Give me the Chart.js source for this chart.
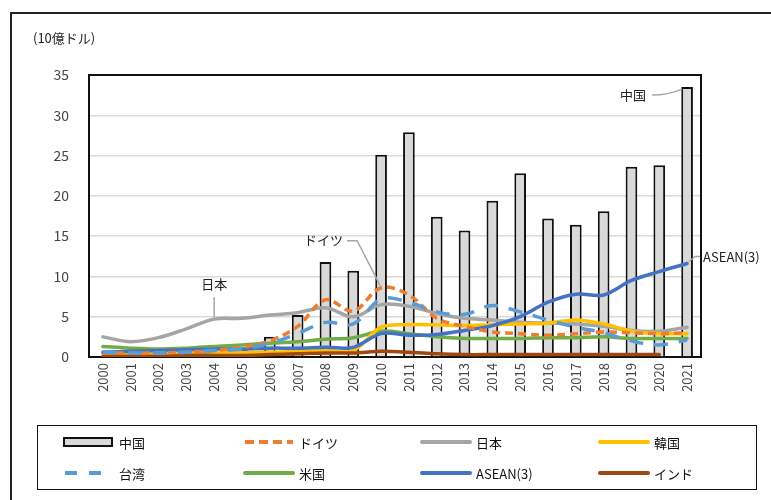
<!DOCTYPE html>
<html>
<head>
<meta charset="utf-8">
<script src="https://cdn.jsdelivr.net/npm/chart.js@4/dist/chart.umd.min.js"></script>
<style>
  html, body { margin: 0; padding: 0; background: #fff; }
  #wrap { position: relative; width: 771px; height: 500px; overflow: hidden; font-family: "Noto Sans CJK JP", sans-serif; }
  #frame { position: absolute; left: 10px; top: 12px; width: 800px; height: 520px; border-left: 2px solid #222; border-top: 2px solid #222; box-sizing: border-box; pointer-events: none; }
  #legend { position: absolute; left: 37px; top: 425px; width: 720px; height: 65px; border: 1.5px solid #111; box-sizing: border-box; }
  .item { position: absolute; display: flex; align-items: center; font-size: 13px; color: #111; height: 20px; }
  .item svg { margin-right: 4px; }
</style>
</head>
<body>
<div id="wrap">
  <canvas id="c" width="771" height="500"></canvas>
  <div id="frame"></div>
  <div id="legend"></div>
</div>
<script>
// Annual values, 10億ドル
const years = ['2000','2001','2002','2003','2004','2005','2006','2007','2008','2009','2010',
               '2011','2012','2013','2014','2015','2016','2017','2018','2019','2020','2021'];
const china   = [0.1,0.1,0.2,0.3,0.5,1.0,2.5,5.2,11.8,10.7,25.1,27.9,17.4,15.7,19.4,22.8,17.2,16.4,18.1,23.6,23.8,33.5];
const germany = [0.5,0.5,0.5,0.6,0.8,1.2,2.0,3.8,7.1,5.7,8.6,7.7,4.8,3.8,3.1,2.9,2.7,2.9,3.1,3.0,2.9,3.0];
const japan   = [2.5,1.9,2.4,3.5,4.7,4.8,5.2,5.5,6.1,5.0,6.5,6.3,5.4,4.8,4.6,4.3,4.2,4.1,3.8,3.3,3.2,3.7];
const korea   = [0.4,0.4,0.4,0.5,0.5,0.6,0.6,0.7,0.8,0.8,3.7,4.0,4.0,3.9,4.0,4.1,4.2,4.6,4.1,3.2,2.9,2.9];
const taiwan  = [0.6,0.5,0.5,0.6,0.8,1.0,1.7,2.9,4.3,4.1,7.2,6.8,5.6,5.3,6.4,5.6,4.6,3.7,3.0,2.0,1.5,2.1];
const usa     = [1.3,1.1,1.0,1.1,1.3,1.5,1.7,1.9,2.2,2.4,3.2,2.9,2.5,2.3,2.3,2.3,2.4,2.4,2.5,2.3,2.3,2.3];
const asean   = [0.6,0.7,0.8,0.9,1.0,1.0,1.1,1.1,1.2,1.2,2.9,2.7,2.8,3.3,3.9,5.0,6.8,7.8,7.7,9.5,10.6,11.6];
const india   = [0.1,0.1,0.1,0.2,0.2,0.2,0.3,0.4,0.5,0.5,0.7,0.6,0.4,0.3,0.3,0.3,0.3,0.3,0.3,0.3,0.3,null];
const yTicks  = [0,5,10,15,20,25,30,35];

const FONT = '"Noto Sans CJK JP", sans-serif';

function lineSet(label, data, color, order, dash) {
  return {
    type: 'line', label, data, order,
    borderColor: color, backgroundColor: color,
    borderWidth: 3.5, borderDash: dash || [], borderCapStyle: dash ? 'butt' : 'round',
    pointRadius: 0, tension: 0.35, fill: false, spanGaps: false
  };
}

const datasets = [
  { type: 'bar', label: '中国', data: china, order: 100,
    backgroundColor: '#d9d9d9', borderColor: '#111', borderWidth: 2,
    barPercentage: 0.42, categoryPercentage: 1.0 },
  lineSet('ドイツ', germany, '#ed7d31', 4, [8, 5]),
  lineSet('日本', japan, '#a5a5a5', 9),
  lineSet('韓国', korea, '#ffc000', 7),
  lineSet('台湾', taiwan, '#5b9bd5', 3, [14, 11]),
  lineSet('米国', usa, '#70ad47', 8),
  lineSet('ASEAN(3)', asean, '#4472c4', 6),
  lineSet('インド', india, '#9e480e', 5)
];

// Plot frame, unit caption and callout labels
const decor = {
  id: 'decor',
  beforeDatasetsDraw(chart) {
    const { ctx, chartArea: a } = chart;
    ctx.save();
    ctx.strokeStyle = '#111';
    ctx.lineWidth = 2;
    ctx.strokeRect(a.left, a.top, a.right - a.left, a.bottom - a.top);
    ctx.restore();
  },
  afterDatasetsDraw(chart) {
    const { ctx } = chart;
    const x = chart.scales.x, y = chart.scales.y;
    const px = i => x.getPixelForValue(i);
    const py = v => y.getPixelForValue(v);
    ctx.save();
    ctx.font = '13px ' + FONT;
    ctx.fillStyle = '#222';
    ctx.textBaseline = 'middle';
    ctx.strokeStyle = '#a6a6a6';
    ctx.lineWidth = 1.5;

    // 中国 (2021 bar)
    const cx = px(21) - 5, cy = py(china[21]);
    ctx.textAlign = 'right';
    ctx.fillText('中国', cx - 36, cy + 8);
    ctx.beginPath();
    ctx.moveTo(cx - 30, cy + 8);
    ctx.quadraticCurveTo(cx - 14, cy + 8, cx, cy + 2);
    ctx.stroke();

    // ドイツ (2010 point)
    const gx = px(10), gy = py(germany[10]);
    ctx.textAlign = 'right';
    ctx.fillText('ドイツ', gx - 38, gy - 48);
    ctx.beginPath();
    ctx.moveTo(gx - 34, gy - 47);
    ctx.lineTo(gx - 24, gy - 47);
    ctx.lineTo(gx - 6, gy - 12);
    ctx.lineTo(gx - 1, gy - 2);
    ctx.stroke();

    // 日本 (2004 point)
    const jx = px(4), jy = py(japan[4]);
    ctx.textAlign = 'center';
    ctx.fillText('日本', jx, jy - 35);
    ctx.beginPath();
    ctx.moveTo(jx, jy - 22);
    ctx.lineTo(jx, jy - 2);
    ctx.stroke();

    // ASEAN(3) (2021 point)
    const ax = px(21), ay = py(asean[21]);
    ctx.textAlign = 'left';
    ctx.fillText('ASEAN(3)', ax + 16, ay - 6);
    ctx.beginPath();
    ctx.moveTo(ax + 2, ay - 2);
    ctx.lineTo(ax + 8, ay - 7);
    ctx.lineTo(ax + 13, ay - 7);
    ctx.stroke();

    // unit caption
    ctx.textAlign = 'left';
    ctx.fillStyle = '#222';
    ctx.fillText('(10億ドル)', 33, 38);
    ctx.restore();
  }
};

const chart = new Chart(document.getElementById('c'), {
  type: 'bar',
  data: { labels: years, datasets },
  options: {
    responsive: false,
    animation: false,
    layout: { padding: { left: 30, right: 70, top: 75, bottom: 90 } },
    plugins: { legend: { display: false }, tooltip: { enabled: false } },
    scales: {
      x: {
        grid: { display: false, drawTicks: false },
        border: { color: '#111', width: 2 },
        ticks: { minRotation: 90, maxRotation: 90, autoSkip: false, padding: 6,
                 color: '#444', font: { family: FONT, size: 13 } },
        afterFit(s) { s.height = 53; }
      },
      y: {
        min: 0, max: 35,
        afterBuildTicks(s) { s.ticks = yTicks.map(v => ({ value: v })); },
        grid: { color: '#d9d9d9', lineWidth: 1.5, drawTicks: false },
        border: { color: '#111', width: 2 },
        ticks: { padding: 20, color: '#444', font: { family: FONT, size: 14 } },
        afterFit(s) { s.width = 59; }
      }
    }
  },
  plugins: [decor]
});

// Legend: four columns, two rows, built from the chart's datasets
const legendEl = document.getElementById('legend');
const cols = [25, 205, 382, 560];
const rows = [6, 37];
const legendOrder = ['中国','ドイツ','日本','韓国','台湾','米国','ASEAN(3)','インド'];
legendOrder.forEach((name, i) => {
  const ds = datasets.find(d => d.label === name);
  const el = document.createElement('div');
  el.className = 'item';
  el.style.left = cols[i % 4] + 'px';
  el.style.top = rows[Math.floor(i / 4)] + 'px';
  let sw;
  if (ds.type === 'bar') {
    sw = '<svg width="52" height="14"><rect x="1" y="3" width="48" height="8" fill="#d9d9d9" stroke="#111" stroke-width="2"/></svg>';
  } else {
    const dash = ds.borderDash.length ? (name === '台湾' ? '12,12' : '9,5') : '';
    const x1 = name === '台湾' ? 2 : 2;
    sw = '<svg width="52" height="14"><line x1="' + x1 + '" y1="7" x2="50" y2="7" stroke="' + ds.borderColor +
         '" stroke-width="4" ' + (dash ? 'stroke-dasharray="' + dash + '"' : 'stroke-linecap="round"') + '/></svg>';
  }
  el.innerHTML = sw + '<span>' + name + '</span>';
  legendEl.appendChild(el);
});
</script>
</body>
</html>
